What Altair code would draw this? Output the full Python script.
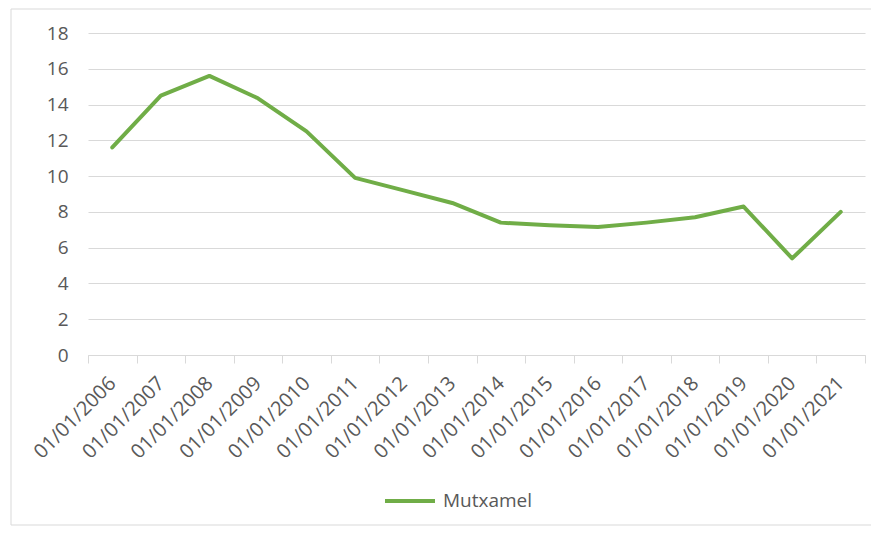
import altair as alt
import pandas as pd

years = ["01/01/2006", "01/01/2007", "01/01/2008", "01/01/2009", "01/01/2010",
         "01/01/2011", "01/01/2012", "01/01/2013", "01/01/2014", "01/01/2015",
         "01/01/2016", "01/01/2017", "01/01/2018", "01/01/2019", "01/01/2020",
         "01/01/2021"]
values = [11.6, 14.5, 15.6, 14.35, 12.5, 9.9, 9.2, 8.5, 7.4, 7.25, 7.15, 7.4,
          7.7, 8.3, 5.4, 8.0]
series = "Mutxamel"

df = pd.DataFrame({"fecha": years, "valor": values, "serie": series})

FONT = "Open Sans"
GREY = "#595959"
GRID = "#d9d9d9"
W, H = 777, 322

frame = alt.Chart(pd.DataFrame({"a": [0]})).mark_rect(
    fill=None, stroke=GRID, strokeWidth=1, clip=False
).encode(
    x=alt.value(-77), x2=alt.value(789), y=alt.value(-24), y2=alt.value(492)
)

line = alt.Chart(df).mark_line(strokeWidth=4, strokeJoin="round", strokeCap="round").encode(
    x=alt.X("fecha:O", sort=years, bandPosition=0.5,
            scale=alt.Scale(type="band", paddingInner=0, paddingOuter=0),
            axis=alt.Axis(title=None, labelAngle=-45, labelAlign="right",
                          labelBaseline="middle", labelPadding=17,
                          tickBand="extent", tickSize=8, tickColor=GRID,
                          domainColor=GRID, labelColor=GREY, labelFont=FONT,
                          labelFontSize=20, grid=False)),
    y=alt.Y("valor:Q", scale=alt.Scale(domain=[0, 18], nice=False),
            axis=alt.Axis(title=None, values=list(range(0, 19, 2)), domain=False,
                          ticks=False, labelPadding=20, labelColor=GREY,
                          labelFont=FONT, labelFontSize=19, gridColor=GRID)),
    color=alt.Color("serie:N", scale=alt.Scale(range=["#70ad47"]),
                    legend=alt.Legend(title=None, orient="none", legendX=295,
                                      legendY=441, symbolType="stroke",
                                      symbolSize=2500, symbolStrokeWidth=4,
                                      labelFont=FONT, labelFontSize=19,
                                      labelColor=GREY, labelOffset=6))
)

chart = alt.layer(frame, line).properties(
    width=W, height=H,
    padding={"left": 80, "top": 25, "right": 6, "bottom": 171},
    autosize=alt.AutoSizeParams(type="none"),
).configure_view(stroke=None)

chart.save("out.html", embed_options={"renderer": "svg", "actions": False})
